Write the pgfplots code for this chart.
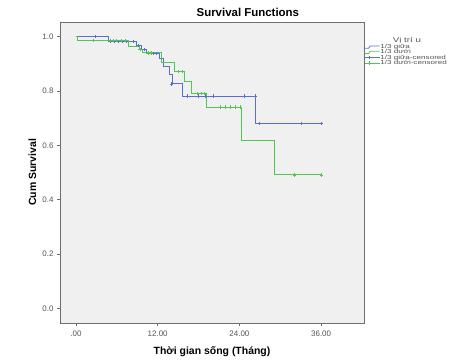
\documentclass[border=0pt]{standalone}
\usepackage{fontspec}
\setmainfont{Liberation Sans}
\newfontfamily\legfont[FakeStretch=1.4]{Liberation Sans}
\usepackage{pgfplots}
\pgfplotsset{compat=1.18}

\definecolor{seriesA}{RGB}{90,110,210}
\definecolor{seriesB}{RGB}{80,200,80}
\definecolor{panel}{RGB}{240,240,240}
\definecolor{framegray}{RGB}{110,110,110}
\definecolor{ticktext}{RGB}{85,85,85}

\begin{document}
\begin{tikzpicture}
\useasboundingbox (0,0) rectangle (449bp,362bp);
\begin{axis}[
  at={(60bp,39bp)}, anchor=south west,
  scale only axis, width=304bp, height=301bp,
  xmin=-2.35, xmax=42.3, ymin=-0.054, ymax=1.054,
  axis background/.style={fill=panel},
  axis line style={framegray, line width=0.8bp},
  xtick={0,12,24,36}, xticklabels={.00,12.00,24.00,36.00},
  ytick={0,0.2,0.4,0.6,0.8,1.0}, yticklabels={0.0,0.2,0.4,0.6,0.8,1.0},
  tick align=outside, tick pos=left,
  major tick length=3bp,
  tick style={framegray, line width=0.6bp},
  /pgf/number format/assume math mode=true,
  ticklabel style={font=\fontsize{8}{8}\selectfont, text=ticktext},
  xticklabel style={yshift=-1bp},
  xlabel={Thời gian sống (Tháng)},
  ylabel={Cum Survival},
  xlabel style={font=\bfseries\fontsize{10.5}{10.5}\selectfont, at={(axis description cs:0.5,-0.0953)}, anchor=center},
  ylabel style={font=\bfseries\fontsize{10.5}{10.5}\selectfont, at={(axis description cs:-0.091,0.5)}, anchor=center},
  legend style={at={(rel axis cs:1.0,0.926)}, anchor=north west, draw=none, fill=none,
    font=\legfont\fontsize{5.8}{5.8}\selectfont, inner sep=0pt, row sep=0pt,
    nodes={inner sep=0.3bp, text height=3.8bp, text depth=0.9bp, text=ticktext}},
  legend cell align=left,
  clip=false,
]
% survival step functions (value changes at each event time)
\addplot[seriesA, line width=1bp, const plot, mark=none,
  legend image code/.code={\draw[seriesA, line width=0.8bp] (0bp,-1.2bp) -- (4bp,-1.2bp) -- (5.5bp,1.2bp) -- (15bp,1.2bp);}]
  coordinates {
  (0,1.0) (4.75,0.982) (8.9,0.967) (9.6,0.953) (10.3,0.939) (12.3,0.920)
  (12.8,0.890) (13.8,0.859) (14.2,0.826) (15.7,0.781) (26.3,0.681) (36.1,0.681)
};
\addlegendentry{1/3 giữa}
\addplot[seriesB, line width=1bp, const plot, mark=none,
  legend image code/.code={\draw[seriesB, line width=0.8bp] (0bp,-1.2bp) -- (4bp,-1.2bp) -- (5.5bp,1.2bp) -- (15bp,1.2bp);}]
  coordinates {
  (0,1.0) (0.2,0.985) (7.7,0.963) (9.3,0.952) (9.8,0.940) (12.6,0.904)
  (14.5,0.871) (16.0,0.834) (16.9,0.791) (19.2,0.741) (24.3,0.617)
  (29.1,0.491) (36.05,0.491)
};
\addlegendentry{1/3 dưới}
% censored observations
\addplot[seriesA, only marks, mark=+, mark size=1.7bp, mark options={line width=0.8bp},
  legend image code/.code={\draw[seriesA, line width=0.8bp] (0bp,0bp) -- (15bp,0bp); \draw[seriesA, line width=0.8bp] (5bp,-1.7bp) -- (5bp,1.7bp);}]
  coordinates {
  (2.9,1.0)
  (5.0,0.982) (5.6,0.982) (6.2,0.982) (6.8,0.982) (7.4,0.982) (8.5,0.982)
  (9.2,0.967) (10.0,0.953) (11.3,0.939) (11.8,0.939) (14.0,0.826)
  (16.3,0.781) (18.0,0.781) (18.95,0.781) (20.2,0.781) (24.8,0.781) (26.3,0.781)
  (27.0,0.681) (33.1,0.681) (36.1,0.681)
};
\addlegendentry{1/3 giữa-censored}
\addplot[seriesB, only marks, mark=+, mark size=1.7bp, mark options={line width=0.8bp},
  legend image code/.code={\draw[seriesB, line width=0.8bp] (0bp,0bp) -- (15bp,0bp); \draw[seriesB, line width=0.8bp] (5bp,-1.7bp) -- (5bp,1.7bp);}]
  coordinates {
  (2.5,0.985) (5.0,0.985) (5.5,0.985) (6.0,0.985) (6.6,0.985) (7.2,0.985)
  (9.4,0.952) (10.6,0.940) (11.1,0.940) (15.1,0.871) (15.6,0.871)
  (17.9,0.791) (18.4,0.791) (18.9,0.791)
  (21.2,0.741) (22.0,0.741) (22.7,0.741) (23.4,0.741) (24.1,0.741)
  (32.1,0.491) (36.05,0.491)
};
\addlegendentry{1/3 dưới-censored}
\node[font=\bfseries\fontsize{11.5}{11.5}\selectfont, anchor=center] at (axis description cs:0.618,1.033) {Survival Functions};
\node[font=\legfont\fontsize{7}{7}\selectfont, text=ticktext, anchor=center] at (axis description cs:1.141,0.938) {Vị trí u};
\end{axis}
\end{tikzpicture}
\end{document}
